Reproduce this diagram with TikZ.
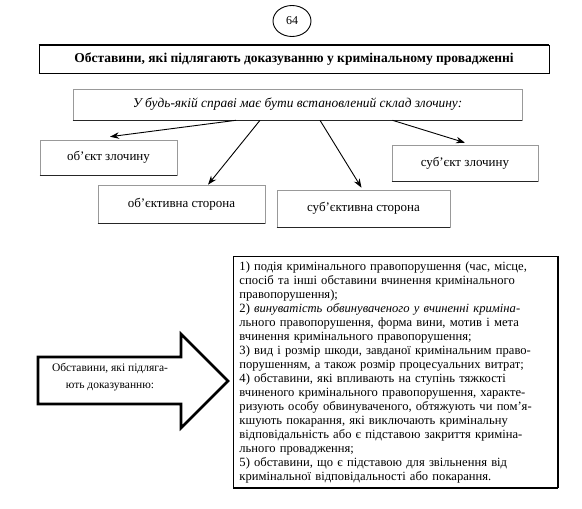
\documentclass[tikz,border=0pt]{standalone}
\usepackage{fontspec}
\setmainfont{Liberation Serif}
\usetikzlibrary{arrows.meta,shapes.geometric}
\newcommand{\fulline}[1]{\hbox to \linewidth{#1}}
\newcommand{\lastline}[1]{\hbox to \linewidth{#1\hfil}}
\tikzset{
  conn/.style={line width=0.9pt, -{Stealth[length=9pt,width=6.5pt]}},
  graybox/.style={draw=black!40, line width=0.6pt, fill=white, inner sep=2pt,
    font=\fontsize{13}{15}\selectfont,
    append after command={(\tikzlastnode.south west) edge[line width=1.5pt, draw=black!85] (\tikzlastnode.south east)}},
  titlebox/.style={draw=black, line width=0.8pt, fill=white, font=\bfseries\fontsize{13.5}{15}\selectfont,
    append after command={(\tikzlastnode.south west) edge[line width=1.6pt, draw=black] (\tikzlastnode.south east)
      (\tikzlastnode.north west) edge[line width=1.1pt, draw=black] (\tikzlastnode.north east)}},
  bigbox/.style={draw=black, line width=0.9pt, fill=white, inner xsep=6pt, inner ysep=5pt, text width=312pt,
    font=\fontsize{12.6}{14}\selectfont,
    append after command={(\tikzlastnode.south west) edge[line width=1.5pt, draw=black] (\tikzlastnode.south east)
      (\tikzlastnode.north east) edge[line width=1.3pt, draw=black] (\tikzlastnode.south east)}},
  bigarrow/.style={draw=black, line width=2.6pt, fill=white, line join=miter}
}
\begin{document}
\begin{tikzpicture}[x=1pt,y=-1pt]
\useasboundingbox[fill=white] (0,0) rectangle (582,509);

% page number
\node[draw=black, line width=0.9pt, ellipse, minimum width=38pt, minimum height=31pt, inner sep=0pt,
  font=\fontsize{12}{14}\selectfont] (pg) at (292,21) {64};

% title
\node[titlebox, minimum width=510pt, minimum height=28pt] (title) at (294,59)
  {Обставини, які підлягають доказуванню у кримінальному провадженні};

% statement box
\node[graybox, minimum width=449pt, minimum height=31pt, font=\itshape\fontsize{13.4}{15}\selectfont] (s) at (297.5,104.5)
  {У будь-якій справі має бути встановлений склад злочину:};

% elements
\node[graybox, minimum width=137pt, minimum height=35pt] (b1) at (108.5,157.5) {об’єкт злочину};
\node[graybox, minimum width=167pt, minimum height=38pt] (b2) at (181.5,204) {об’єктивна сторона};
\node[graybox, minimum width=173pt, minimum height=37pt] (b3) at (363.5,208.5) {суб’єктивна сторона};
\node[graybox, minimum width=146pt, minimum height=36pt] (b4) at (465,163) {суб’єкт злочину};

% connectors
\coordinate (a1) at ([xshift=-61.5pt]s.south);
\coordinate (a2) at ([xshift=-37.5pt]s.south);
\coordinate (a3) at ([xshift=22.5pt]s.south);
\coordinate (a4) at ([xshift=95pt]s.south);
\draw[conn] (a1) -- ([xshift=1.5pt,yshift=3pt]b1.north);
\draw[conn] (a2) -- ([xshift=26.5pt,yshift=0pt]b2.north);
\draw[conn] (a3) -- ([xshift=-2pt,yshift=2pt]b3.north);
\draw[conn] (a4) -- ([xshift=0pt,yshift=2pt]b4.north);

% big arrow
\draw[bigarrow] (38,357) -- (181,357) -- (181,334) -- (228,381) -- (181,428) -- (181,404) -- (38,404) -- cycle;
\node[align=center, font=\fontsize{11.5}{17}\selectfont] (arrtext) at (110,377)
  {Обставини, які підляга-\\ють доказуванню:};

% list box
\node[bigbox, anchor=north west] (list) at (233,256) {%
\fulline{1) подія кримінального правопорушення (час, місце,}
\fulline{спосіб та інші обставини вчинення кримінального}
\lastline{правопорушення);}
\fulline{2) \itshape винуватість обвинуваченого у вчиненні криміна-}
\fulline{льного правопорушення, форма вини, мотив і мета}
\lastline{вчинення кримінального правопорушення;}
\fulline{3) вид і розмір шкоди, завданої кримінальним право-}
\lastline{порушенням, а також розмір процесуальних витрат;}
\fulline{4) обставини, які впливають на ступінь тяжкості}
\fulline{вчиненого кримінального правопорушення, характе-}
\fulline{ризують особу обвинуваченого, обтяжують чи пом’я-}
\fulline{кшують покарання, які виключають кримінальну}
\fulline{відповідальність або є підставою закриття криміна-}
\lastline{льного провадження;}
\fulline{5) обставини, що є підставою для звільнення від}
\lastline{кримінальної відповідальності або покарання.}};
\end{tikzpicture}
\end{document}
